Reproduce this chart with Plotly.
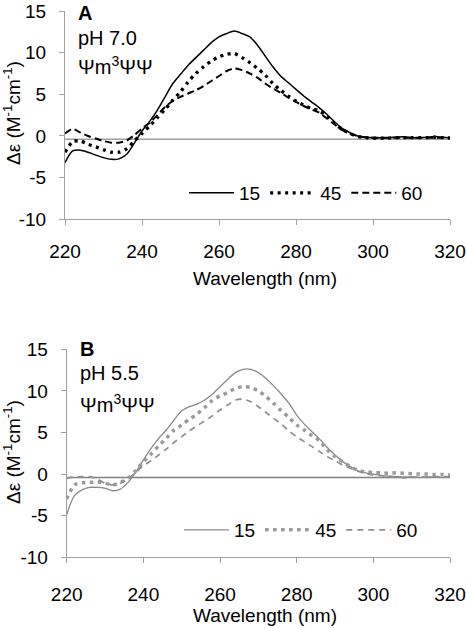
import plotly.graph_objects as go

W, H = 466, 628
FONT = "Liberation Sans, Arial, sans-serif"

# ---------------- data ----------------
wavelength = list(range(220, 321, 2))

# Panel A: pH 7.0
A_15 = [-3.2, -1.8, -1.7, -1.95, -2.3, -2.6, -2.8, -2.75, -2.2, -0.85,
        0.6, 1.75, 3.1, 4.7, 6.3, 7.4, 8.5, 9.4, 10.3, 11.2,
        11.9, 12.3, 12.6, 12.3, 11.9, 10.9, 9.6, 8.3, 7.2, 6.4,
        5.6, 4.8, 4.1, 3.4, 2.6, 1.7, 0.9, 0.4, 0.0, -0.15,
        -0.2, -0.2, -0.2, -0.15, -0.1, -0.2, -0.2, -0.15, -0.05, -0.15, -0.2]
A_45 = [-1.95, -0.7, -0.6, -1.0, -1.3, -1.65, -1.95, -1.95, -1.55, -0.6,
        0.3, 1.2, 2.2, 3.2, 4.3, 5.3, 6.5, 7.5, 8.3, 9.0,
        9.5, 9.8, 9.9, 9.4, 8.8, 8.1, 7.3, 6.3, 5.5, 4.8,
        4.2, 3.7, 3.3, 3.0, 2.4, 1.5, 0.8, 0.3, -0.05, -0.2,
        -0.25, -0.25, -0.25, -0.2, -0.2, -0.2, -0.2, -0.2, -0.15, -0.2, -0.25]
A_60 = [0.3, 0.85, 0.4, 0.0, -0.3, -0.6, -0.8, -0.8, -0.55, 0.1,
        0.9, 1.6, 2.5, 3.5, 4.2, 4.7, 5.1, 5.5, 6.0, 6.6,
        7.2, 7.8, 8.1, 7.9, 7.5, 7.0, 6.3, 5.7, 5.2, 4.6,
        4.1, 3.6, 3.2, 2.8, 2.1, 1.4, 0.7, 0.3, 0.0, -0.15,
        -0.2, -0.2, -0.2, -0.2, -0.2, -0.2, -0.2, -0.2, -0.2, -0.2, -0.2]

# Panel B: pH 5.5
B_15 = [-4.9, -2.6, -1.9, -1.6, -1.6, -1.7, -2.0, -1.8, -1.0, 0.2,
        1.7, 3.1, 4.3, 5.3, 6.5, 7.6, 8.1, 8.4, 8.9, 9.6,
        10.5, 11.4, 12.2, 12.6, 12.6, 12.2, 11.5, 10.6, 9.6, 8.5,
        7.1, 6.0, 5.1, 4.2, 3.2, 2.3, 1.5, 0.9, 0.4, 0.15,
        0.0, -0.15, -0.25, -0.3, -0.35, -0.35, -0.4, -0.35, -0.35, -0.4, -0.4]
B_45 = [-3.0, -1.3, -1.05, -1.0, -0.95, -1.1, -1.3, -1.0, -0.5, 0.4,
        1.5, 2.4, 3.4, 4.3, 5.3, 5.9, 6.6, 7.2, 8.0, 8.85,
        9.4, 9.8, 10.3, 10.5, 10.4, 10.0, 9.3, 8.5, 7.6, 6.8,
        5.9, 5.3, 4.6, 4.0, 2.9, 2.1, 1.5, 0.9, 0.45, 0.25,
        0.2, 0.15, 0.1, 0.15, 0.1, 0.05, 0.0, 0.0, -0.05, -0.05, -0.1]
B_60 = [-0.5, -0.35, -0.3, -0.3, -0.6, -1.1, -1.3, -1.1, -0.6, 0.2,
        1.0, 1.6, 2.3, 3.0, 3.8, 4.5, 5.2, 5.8, 6.4, 7.0,
        7.7, 8.3, 8.9, 9.0, 8.7, 8.1, 7.4, 6.7, 6.0, 5.2,
        4.5, 3.9, 3.3, 2.7, 2.1, 1.6, 1.1, 0.7, 0.35, 0.05,
        -0.1, -0.2, -0.25, -0.35, -0.45, -0.4, -0.35, -0.35, -0.3, -0.3, -0.3]

series_names = ["15", "45", "60"]
x_ticks = [220, 240, 260, 280, 300, 320]
y_ticks = [-10, -5, 0, 5, 10, 15]
y_ticktext = ["-10", "-5", "0", "5", "10", "15"]
baseline = -0.4

# ---------------- figure ----------------
def px_x(p):
    return p / W

def px_y(p):
    return 1 - p / H

fig = go.Figure()

styles_A = [dict(color="black", width=1.5, dash="solid"),
            dict(color="black", width=3.3, dash="3px,4.5px"),
            dict(color="black", width=2.0, dash="7px,4px")]
styles_B = [dict(color="#8a8a8a", width=1.3, dash="solid"),
            dict(color="#9a9a9a", width=3.5, dash="3.5px,4.5px"),
            dict(color="#8f8f8f", width=1.7, dash="6px,5px")]

for name, ys, st in zip(series_names, [A_15, A_45, A_60], styles_A):
    fig.add_trace(go.Scatter(x=wavelength, y=ys, name=name, mode="lines",
                             line=dict(shape="spline", smoothing=0.8, **st),
                             xaxis="x", yaxis="y", legend="legend"))
for name, ys, st in zip(series_names, [B_15, B_45, B_60], styles_B):
    fig.add_trace(go.Scatter(x=wavelength, y=ys, name=name, mode="lines",
                             line=dict(shape="spline", smoothing=0.8, **st),
                             xaxis="x2", yaxis="y2", legend="legend2"))

axis_common_x = dict(range=[220, 320], tickvals=x_ticks, showline=True,
                     linecolor="#a0a0a0", linewidth=1, ticks="outside",
                     ticklen=5, tickcolor="#a0a0a0", showgrid=False,
                     zeroline=False, automargin=False,
                     tickfont=dict(size=19, color="black", family=FONT))
axis_common_y = dict(range=[-10, 15], tickvals=y_ticks, ticktext=y_ticktext,
                     showline=True, linecolor="#a0a0a0", linewidth=1, ticks="outside",
                     ticklen=5, tickcolor="#a0a0a0", showgrid=False,
                     zeroline=False, ticklabelstandoff=9, automargin=False,
                     tickfont=dict(size=19, color="black", family=FONT))

top_y0, top_y1 = 219.3, 11
bot_y0, bot_y1 = 557.3, 349.3

fig.update_layout(
    width=W, height=H,
    margin=dict(l=0, r=0, t=0, b=0, autoexpand=False),
    paper_bgcolor="white", plot_bgcolor="white",
    font=dict(family=FONT, color="black", size=19),
    xaxis=dict(domain=[px_x(65), px_x(450)], anchor="y", ticklabelstandoff=10, **axis_common_x),
    yaxis=dict(domain=[px_y(top_y0), px_y(top_y1)], anchor="x", **axis_common_y),
    xaxis2=dict(domain=[px_x(66.7), px_x(450)], anchor="y2", ticklabelstandoff=15, **axis_common_x),
    yaxis2=dict(domain=[px_y(bot_y0), px_y(bot_y1)], anchor="x2", **axis_common_y),
    legend=dict(orientation="h", x=px_x(184), y=px_y(193), xanchor="left", yanchor="middle",
                font=dict(size=19, color="black", family=FONT), itemwidth=45,
                bgcolor="rgba(0,0,0,0)", tracegroupgap=0),
    legend2=dict(orientation="h", x=px_x(179), y=px_y(530), xanchor="left", yanchor="middle",
                 font=dict(size=19, color="black", family=FONT), itemwidth=45,
                 bgcolor="rgba(0,0,0,0)", tracegroupgap=0),
    showlegend=True,
)

# baseline lines (horizontal axis crossing)
fig.add_shape(type="line", xref="x domain", yref="y", x0=0, x1=1, y0=baseline, y1=baseline,
              line=dict(color="#a0a0a0", width=1.5), layer="below")
fig.add_shape(type="line", xref="x2 domain", yref="y2", x0=0, x1=1, y0=baseline, y1=baseline,
              line=dict(color="#808080", width=1.5), layer="below")

ytitle = "Δε (M<sup>-1</sup>cm<sup>-1</sup>)"
annots = [
    dict(text=ytitle, x=px_x(12), y=px_y(113), textangle=-90),
    dict(text=ytitle, x=px_x(12), y=px_y(452), textangle=-90),
    dict(text="Wavelength (nm)", x=px_x(264.5), y=px_y(278)),
    dict(text="Wavelength (nm)", x=px_x(264.5), y=px_y(615)),
]
for a in annots:
    fig.add_annotation(xref="paper", yref="paper", xanchor="center", yanchor="middle",
                       showarrow=False, font=dict(size=19, family=FONT, color="black"), **a)

labels = [
    ("<b>A</b>", 76, 13),
    ("pH 7.0", 76, 38),
    ("Ψm<sup>3</sup>ΨΨ", 76, 66),
    ("<b>B</b>", 78, 349),
    ("pH 5.5", 78, 373),
    ("Ψm<sup>3</sup>ΨΨ", 78, 403),
]
for t, x, y in labels:
    fig.add_annotation(xref="paper", yref="paper", x=px_x(x), y=px_y(y), text=t,
                       xanchor="left", yanchor="middle", showarrow=False,
                       font=dict(size=20, family=FONT, color="black"))

fig.write_html("out.html",
               config={"displayModeBar": False},
               post_script="document.body.style.margin='0px';document.body.style.overflow='hidden';")
